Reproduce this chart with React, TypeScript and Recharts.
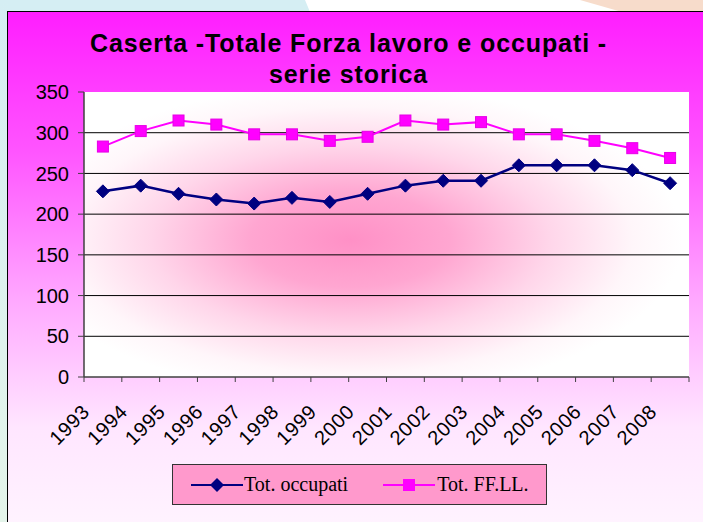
import React from 'react';
import { LineChart, Line, XAxis, YAxis, CartesianGrid, Legend } from 'recharts';

const years = ['1993', '1994', '1995', '1996', '1997', '1998', '1999', '2000', '2001', '2002', '2003', '2004', '2005', '2006', '2007', '2008'];
const occupati = [228, 235, 225, 218, 213, 220, 215, 225, 235, 241, 241, 260, 260, 260, 254, 238];
const forzaLavoro = [283, 302, 315, 310, 298, 298, 290, 295, 315, 310, 313, 298, 298, 290, 281, 269];
const yTicks = [0, 50, 100, 150, 200, 250, 300, 350];
const gridValues = [50, 100, 150, 200, 250, 300];
const titleLines = ['Caserta -Totale Forza lavoro e occupati -', 'serie storica'];
const seriesNames = ['Tot. occupati', 'Tot. FF.LL.'];

const data = years.map((y, i) => ({ year: y, occ: occupati[i], ffll: forzaLavoro[i] }));

const NAVY = '#000080';
const MAGENTA = '#ff00ff';
const SANS = '"Liberation Sans", Arial, sans-serif';
const SERIF = '"Liberation Serif", "Times New Roman", serif';
const PLOT_W = 605;
const HALF_BAND = PLOT_W / years.length / 2;

const Diamond = (props: any) => {
  const { cx, cy, index } = props;
  if (cx == null || cy == null) return <g key={`dd-${index}`} />;
  const r = 6.5;
  return (
    <path
      key={`d-${index}`}
      d={`M${cx},${cy - r} L${cx + r},${cy} L${cx},${cy + r} L${cx - r},${cy} Z`}
      fill={NAVY}
      stroke={NAVY}
      strokeWidth={1}
    />
  );
};

const Square = (props: any) => {
  const { cx, cy, index } = props;
  if (cx == null || cy == null) return <g key={`ss-${index}`} />;
  const s = 5.5;
  return <rect key={`s-${index}`} x={cx - s} y={cy - s} width={2 * s} height={2 * s} fill={MAGENTA} stroke="#e600e6" strokeWidth={1} />;
};

const XTick = (props: any) => {
  const { x, y, payload, index, visibleTicksCount } = props;
  const count = visibleTicksCount || years.length;
  const band = HALF_BAND * 2;
  const tx = x - 12;
  const ty = y + 36;
  return (
    <g>
      <line x1={x - band / 2} y1={y} x2={x - band / 2} y2={y + 5} stroke="#404040" strokeWidth={1} />
      {index === count - 1 && <line x1={x + band / 2} y1={y} x2={x + band / 2} y2={y + 5} stroke="#404040" strokeWidth={1} />}
      <text x={tx} y={ty} transform={`rotate(-45, ${tx}, ${ty})`} textAnchor="end" fontSize={20} letterSpacing={0.6} fontFamily={SANS} fill="#000">
        {payload.value}
      </text>
    </g>
  );
};

const LegendContent = () => (
  <div
    style={{
      width: 375,
      height: 41,
      boxSizing: 'border-box',
      background: '#ff99cc',
      border: '1px solid #333',
      display: 'flex',
      alignItems: 'center',
      fontFamily: SERIF,
      fontSize: 20,
      color: '#000',
    }}
  >
    <svg width={54} height={20} style={{ marginLeft: 17 }}>
      <line x1={1} y1={10} x2={53} y2={10} stroke={NAVY} strokeWidth={2} />
      <path d="M27,3 L34,10 L27,17 L20,10 Z" fill={NAVY} />
    </svg>
    <span style={{ marginLeft: 0 }}>{seriesNames[0]}</span>
    <svg width={54} height={20} style={{ marginLeft: 34 }}>
      <line x1={1} y1={10} x2={53} y2={10} stroke={MAGENTA} strokeWidth={2} />
      <rect x={21} y={4} width={12} height={12} fill={MAGENTA} />
    </svg>
    <span style={{ marginLeft: 1 }}>{seriesNames[1]}</span>
  </div>
);

export default function App() {
  return (
    <div style={{ position: 'absolute', left: 0, top: 0, width: 703, height: 522, overflow: 'hidden', background: '#ffffff' }}>
      <div style={{ position: 'absolute', left: 0, top: 0, width: 320, height: 12, background: '#d5eef3', clipPath: 'polygon(0 0, 305px 0, 310px 12px, 0 12px)' }} />
      <div style={{ position: 'absolute', left: 580, top: 0, width: 123, height: 12, background: '#f7dccb', clipPath: 'polygon(0 0, 123px 0, 123px 12px, 42px 12px)' }} />
      <div style={{ position: 'absolute', left: 0, top: 0, width: 8, height: 522, background: 'linear-gradient(to bottom, #d5eef3, #e4f4ea)' }} />
      <div
        style={{
          position: 'absolute',
          left: 7,
          top: 11,
          width: 705,
          height: 520,
          border: '1px solid #000',
          background: 'linear-gradient(to bottom, #ff1eff 0%, #ff55ff 27%, #ffaaff 56%, #ffe6ff 80%, #fff4ff 100%)',
        }}
      >
        <div
          style={{
            position: 'absolute',
            left: 0,
            top: 16,
            width: 681,
            textAlign: 'center',
            fontFamily: SANS,
            fontWeight: 'bold',
            fontSize: 25,
            lineHeight: '31px',
            letterSpacing: 0.9,
            color: '#000',
          }}
        >
          <div>{titleLines[0]}</div>
          <div>{titleLines[1]}</div>
        </div>
        <div style={{ position: 'absolute', left: 0, top: 0 }}>
          <LineChart width={695} height={510} data={data} margin={{ top: 80, right: 14, bottom: 85, left: 16 }}>
            <defs>
              <radialGradient id="plotBg" cx="0.44" cy="0.52" r="0.55" fx="0.44" fy="0.52">
                <stop offset="0%" stopColor="#ff90c6" />
                <stop offset="30%" stopColor="#ffa6d1" />
                <stop offset="60%" stopColor="#ffd6ea" />
                <stop offset="85%" stopColor="#fff6fa" />
                <stop offset="100%" stopColor="#ffffff" />
              </radialGradient>
            </defs>
            <CartesianGrid
              vertical={false}
              horizontalValues={gridValues}
              stroke="#000"
              strokeWidth={1}
              fill="url(#plotBg)"
              fillOpacity={1}
            />
            <XAxis
              dataKey="year"
              interval={0}
              padding={{ left: HALF_BAND, right: HALF_BAND }}
              tickSize={0}
              tickMargin={0}
              tickLine={false}
              height={60}
              axisLine={{ stroke: '#404040', strokeWidth: 1.5 }}
              tick={<XTick />}
            />
            <XAxis xAxisId="top" orientation="top" dataKey="year" height={0} tick={false} tickLine={false} axisLine={{ stroke: '#b0b0b0', strokeWidth: 1 }} />
            <YAxis
              domain={[0, 350]}
              ticks={yTicks}
              interval={0}
              width={60}
              tickSize={6}
              tickMargin={9}
              axisLine={{ stroke: '#404040', strokeWidth: 1.5 }}
              tickLine={{ stroke: '#404040' }}
              tick={{ fontSize: 20, fill: '#000', fontFamily: SANS }}
            />
            <YAxis yAxisId="right" orientation="right" domain={[0, 350]} width={0} tick={false} tickLine={false} axisLine={{ stroke: '#8c8c8c', strokeWidth: 2 }} />
            <Line
              type="linear"
              dataKey="occ"
              name={seriesNames[0]}
              stroke={NAVY}
              strokeWidth={2.5}
              dot={Diamond}
              activeDot={false}
              isAnimationActive={false}
            />
            <Line
              type="linear"
              dataKey="ffll"
              name={seriesNames[1]}
              stroke={MAGENTA}
              strokeWidth={2}
              dot={Square}
              activeDot={false}
              isAnimationActive={false}
            />
            <Legend
              layout="horizontal"
              verticalAlign="middle"
              align="center"
              wrapperStyle={{ position: 'absolute', top: 452, left: 164, width: 377, height: 43 }}
              content={<LegendContent />}
            />
          </LineChart>
        </div>
      </div>
    </div>
  );
}
